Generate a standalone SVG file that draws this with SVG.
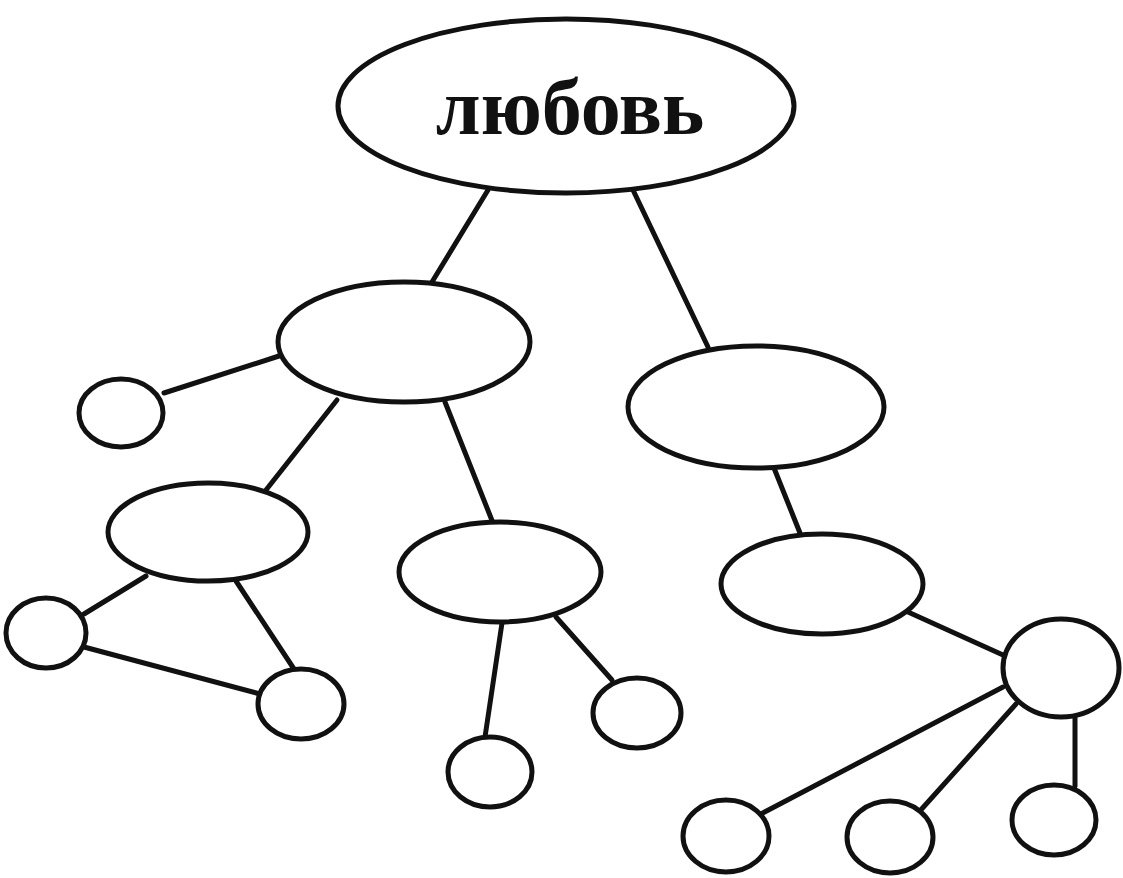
<svg xmlns="http://www.w3.org/2000/svg" width="1123" height="878" viewBox="0 0 1123 878">
<style>
.n{fill:#fff;stroke:#111;stroke-width:5}
.c line{stroke:#111;stroke-width:5;stroke-linecap:round}
.t{font-family:"Liberation Serif","Times New Roman",serif;font-weight:bold;font-size:80px;fill:#111}
</style>
<rect width="1123" height="878" fill="#fff"/>
<g id="connectors" class="c">
<line x1="488" y1="190" x2="432" y2="282"/>
<line x1="633" y1="190" x2="708" y2="347"/>
<line x1="164" y1="393" x2="279" y2="356"/>
<line x1="337" y1="400" x2="266" y2="490"/>
<line x1="445" y1="402" x2="493" y2="523"/>
<line x1="774" y1="468" x2="800" y2="533"/>
<line x1="146" y1="576" x2="84" y2="614"/>
<line x1="236" y1="581" x2="294" y2="669"/>
<line x1="84" y1="647" x2="260" y2="694"/>
<line x1="502" y1="623" x2="485" y2="737"/>
<line x1="556" y1="617" x2="612" y2="680"/>
<line x1="908" y1="612" x2="1003" y2="655"/>
<line x1="1003" y1="687" x2="759" y2="815"/>
<line x1="1016" y1="704" x2="919" y2="812"/>
<line x1="1075" y1="718" x2="1075" y2="786"/>
</g>
<g id="root"><ellipse class="n" cx="566" cy="106" rx="228" ry="87"/><text class="t" x="570" y="134" text-anchor="middle">любовь</text></g>
<g id="nodeA"><ellipse class="n" cx="404" cy="342" rx="126" ry="60"/></g>
<g id="nodeB"><ellipse class="n" cx="756" cy="407" rx="128" ry="61"/></g>
<g id="nodeC"><ellipse class="n" cx="121" cy="413" rx="42" ry="34"/></g>
<g id="nodeD"><ellipse class="n" cx="208" cy="532" rx="100" ry="49"/></g>
<g id="nodeE"><ellipse class="n" cx="500" cy="572" rx="101" ry="50"/></g>
<g id="nodeF"><ellipse class="n" cx="822" cy="584" rx="101" ry="50"/></g>
<g id="nodeG"><ellipse class="n" cx="46" cy="633" rx="40" ry="35"/></g>
<g id="nodeH"><ellipse class="n" cx="301" cy="704" rx="43" ry="35"/></g>
<g id="nodeI"><ellipse class="n" cx="490" cy="772" rx="42" ry="35"/></g>
<g id="nodeJ"><ellipse class="n" cx="637" cy="713" rx="44" ry="35"/></g>
<g id="nodeK"><ellipse class="n" cx="1061" cy="668" rx="58" ry="49"/></g>
<g id="nodeL"><ellipse class="n" cx="726" cy="836" rx="43" ry="36"/></g>
<g id="nodeM"><ellipse class="n" cx="890" cy="837" rx="43" ry="36"/></g>
<g id="nodeN"><ellipse class="n" cx="1054" cy="820" rx="42" ry="35"/></g>
</svg>
